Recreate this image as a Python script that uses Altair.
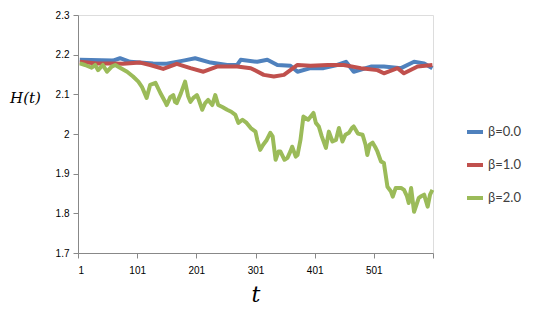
import altair as alt
import pandas as pd

# beta = 0.0 (blue)
t_b0 = [4, 60, 72, 89, 128, 151, 179, 199, 225, 253, 270, 276, 304, 321, 338, 360, 372, 394, 416, 439, 454, 467, 496, 518, 547, 569, 586, 600]
h_b0 = [2.187, 2.185, 2.191, 2.182, 2.178, 2.177, 2.185, 2.191, 2.180, 2.174, 2.174, 2.187, 2.182, 2.187, 2.174, 2.172, 2.157, 2.166, 2.166, 2.174, 2.182, 2.157, 2.170, 2.170, 2.166, 2.182, 2.178, 2.166]

# beta = 1.0 (red)
t_b1 = [4, 33, 60, 77, 106, 123, 145, 168, 191, 213, 236, 270, 293, 315, 332, 349, 372, 394, 423, 450, 479, 507, 518, 541, 552, 575, 600]
h_b1 = [2.182, 2.178, 2.178, 2.177, 2.180, 2.174, 2.164, 2.177, 2.166, 2.157, 2.170, 2.170, 2.166, 2.149, 2.145, 2.149, 2.174, 2.172, 2.174, 2.174, 2.166, 2.161, 2.153, 2.166, 2.153, 2.170, 2.174]

# beta = 2.0 (green)
t_b2 = [4, 13, 24, 30, 35, 43, 50, 58, 64, 72, 84, 94, 103, 109, 117, 123, 132, 140, 148,
        151, 157, 162, 165, 168, 175, 182, 187, 191, 196, 202, 205, 211, 216, 221, 228, 233, 238,
        245, 253, 260, 267, 272, 279, 286, 293, 301, 304, 309, 314, 320, 326, 330,
        335, 340, 343, 350, 355, 360, 363, 369, 372, 377, 382, 390, 399, 403, 408, 413, 420, 425,
        431, 437, 442, 448, 453, 459, 464, 467, 474, 482, 487, 490, 494, 499, 503, 507, 513, 518,
        524, 530, 533, 538, 547, 552, 557, 560, 564, 569, 574, 577, 581, 586, 592, 596, 600]
h_b2 = [2.178, 2.174, 2.167, 2.174, 2.161, 2.174, 2.157, 2.170, 2.174, 2.167, 2.157, 2.145, 2.132, 2.119, 2.091, 2.124, 2.129, 2.104, 2.082,
        2.073, 2.093, 2.098, 2.081, 2.078, 2.103, 2.132, 2.096, 2.081, 2.091, 2.098, 2.087, 2.061, 2.078, 2.086, 2.073, 2.098, 2.073,
        2.068, 2.061, 2.056, 2.048, 2.028, 2.036, 2.028, 2.015, 2.006, 1.985, 1.960, 1.973, 1.985, 2.003, 1.994,
        1.935, 1.956, 1.956, 1.935, 1.940, 1.956, 1.968, 1.943, 1.947, 1.985, 2.044, 2.036, 2.053, 2.028, 2.019, 1.994, 1.965, 2.006,
        1.981, 1.985, 2.015, 1.981, 1.998, 2.003, 2.015, 2.019, 2.001, 1.998, 1.973, 1.947, 1.973, 1.978, 1.968, 1.956, 1.931, 1.927,
        1.867, 1.855, 1.842, 1.864, 1.864, 1.859, 1.843, 1.826, 1.864, 1.804, 1.826, 1.839, 1.843, 1.847, 1.817, 1.847, 1.859]

series_names = ["β=0.0", "β=1.0", "β=2.0"]
colors = ["#4F81BD", "#C0504D", "#9BBB59"]
x_ticks = [1, 101, 201, 301, 401, 501, 601]
y_ticks = [1.7, 1.8, 1.9, 2.0, 2.1, 2.2, 2.3]

rows = []
for name, ts, hs in zip(series_names, [t_b0, t_b1, t_b2], [h_b0, h_b1, h_b2]):
    for t, h in zip(ts, hs):
        rows.append({"t": t, "H": h, "series": name})
df = pd.DataFrame(rows)

label_font = "Lato"

chart = alt.Chart(df).mark_line(strokeWidth=4, strokeJoin="round").encode(
    x=alt.X("t:Q",
            scale=alt.Scale(domain=[1, 601], nice=False, zero=False),
            axis=alt.Axis(values=x_ticks, title="t", grid=False,
                          labelExpr="datum.value == 601 ? '' : datum.label",
                          titleFont="DejaVu Serif", titleFontStyle="italic",
                          titleFontWeight="normal", titleFontSize=22, titleColor="#000000",
                          titlePadding=9, labelPadding=7)),
    y=alt.Y("H:Q",
            scale=alt.Scale(domain=[1.7, 2.3], nice=False, zero=False),
            axis=alt.Axis(values=y_ticks, format="~g", title="H(t)", grid=False,
                          titleAngle=0, titleX=-53, titleY=82, titleAlign="center",
                          titleBaseline="middle", titleFont="DejaVu Serif",
                          titleFontStyle="italic", titleFontWeight="normal",
                          titleFontSize=15, titleColor="#000000", labelPadding=4)),
    color=alt.Color("series:N",
                    scale=alt.Scale(domain=series_names, range=colors),
                    legend=alt.Legend(title=None, orient="none", legendX=387, legendY=107,
                                      symbolType="stroke", symbolStrokeWidth=4,
                                      symbolSize=256, rowPadding=15, labelOffset=3,
                                      labelFont=label_font, labelFontSize=13,
                                      labelColor="#404040", padding=0)),
).properties(
    width=355, height=238,
    autosize=alt.AutoSizeParams(type="none"),
    padding={"left": 70, "top": 7, "right": 100, "bottom": 55},
).configure_view(stroke=None).configure_axis(
    domainColor="#A0A0A0", tickColor="#A0A0A0", tickSize=5,
    labelFont=label_font, labelFontSize=13, labelColor="#404040",
).configure(background="white")

chart.save("out.html", embed_options={"renderer": "svg", "actions": False})
